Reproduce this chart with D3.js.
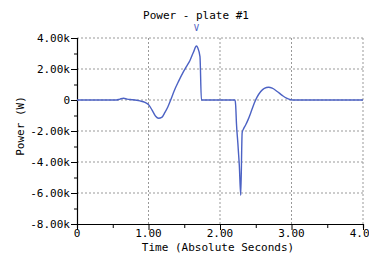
<!DOCTYPE html>
<html>
<head>
<meta charset="utf-8">
<script src="https://cdn.jsdelivr.net/npm/d3@7"></script>
<style>
  body { margin: 0; background: #fff; }
  text { font-family: "DejaVu Sans Mono", monospace; font-size: 11px; fill: #000; }
</style>
</head>
<body>
<svg></svg>
<script>
// tijd (s) en vermogen (W)
const tijd = [0, 0.55, 0.60, 0.65, 0.70, 0.78, 0.88, 0.95, 1.00, 1.05, 1.10, 1.14, 1.19, 1.23, 1.27, 1.31,
    1.36, 1.42, 1.48, 1.53, 1.58, 1.63, 1.67, 1.69, 1.72, 1.74, 1.80, 2.21, 2.22, 2.23, 2.25, 2.26, 2.27,
    2.29, 2.31, 2.33, 2.36, 2.39, 2.44, 2.48, 2.52, 2.57, 2.62, 2.68, 2.73, 2.80, 2.87, 2.93, 2.99, 3.05, 4.0]
const vermogen = [0, 0, 60, 110, 60, 20, -60, -150, -300, -650, -1050, -1180, -1100, -800, -450, 0,
    600, 1200, 1750, 2150, 2550, 3100, 3480, 3350, 2800, 0, 0, 0, -400, -1500, -2800, -3500, -4200,
    -6150, -2100, -1850, -1600, -1300, -700, -200, 200, 550, 750, 820, 760, 550, 300, 120, 20, 0, 0]

const xTicks = [0, 1, 2, 3, 4]
const xTickLabels = ["0", "1.00", "2.00", "3.00", "4.00"]
const yTicks = [4000, 2000, 0, -2000, -4000, -6000, -8000]
const yTickLabels = ["4.00k", "2.00k", "0", "-2.00k", "-4.00k", "-6.00k", "-8.00k"]
const piekTijd = 1.67

const width = 369
const height = 255
const svg = d3.select('svg')
    .attr("width", width)
    .attr("height", height)

const x = d3.scaleLinear().domain([0, 4]).range([77, 363])
const y = d3.scaleLinear().domain([-8000, 4000]).range([224, 38])

const data = tijd.map((t, i) => ({ t: t, v: vermogen[i] }))

// rasterlijnen
svg.append("g").selectAll("line")
    .data(xTicks.filter(d => d > 0))
    .enter().append("line")
    .attr("x1", d => x(d)).attr("x2", d => x(d))
    .attr("y1", y(4000)).attr("y2", y(-8000))
    .attr("stroke", "#999").attr("stroke-dasharray", "2,2")

svg.append("g").selectAll("line")
    .data(yTicks.filter(d => d > -8000))
    .enter().append("line")
    .attr("x1", x(0)).attr("x2", x(4))
    .attr("y1", d => y(d)).attr("y2", d => y(d))
    .attr("stroke", "#999").attr("stroke-dasharray", "2,2")

// assen
const xAs = svg.append("g")
    .attr("transform", `translate(0,${y(-8000)})`)
    .call(d3.axisBottom(x).tickValues(d3.range(0, 4.01, 0.5)).tickSize(4).tickFormat(""))
xAs.selectAll(".tick line").filter(d => d % 1 === 0).attr("y2", 6)

xAs.selectAll(".tick text").remove()
xAs.selectAll(".label")
    .data(xTicks)
    .enter().append("text")
    .attr("x", d => x(d))
    .attr("y", 13)
    .attr("text-anchor", "middle")
    .text((d, i) => xTickLabels[i])

const yAs = svg.append("g")
    .attr("transform", `translate(${x(0)},0)`)
    .call(d3.axisLeft(y).tickValues(d3.range(-8000, 4001, 1000)).tickSize(3).tickFormat(""))
yAs.selectAll(".tick line").filter(d => d % 2000 === 0).attr("x2", -6)

yAs.selectAll(".label")
    .data(yTicks)
    .enter().append("text")
    .attr("x", -7)
    .attr("y", d => y(d))
    .attr("dy", "0.35em")
    .attr("text-anchor", "end")
    .text((d, i) => yTickLabels[i])

svg.selectAll(".domain").attr("stroke", "#000").attr("stroke-width", 1.2)

// lijn
const lijn = d3.line()
    .x(d => x(d.t))
    .y(d => y(d.v))
    .curve(d3.curveMonotoneX)

svg.append("path")
    .datum(data)
    .attr("fill", "none")
    .attr("stroke", "#4c62c4")
    .attr("stroke-width", 1.4)
    .attr("d", lijn)

// titels
svg.append("text")
    .attr("x", 196).attr("y", 19)
    .attr("text-anchor", "middle")
    .text("Power - plate #1")

svg.append("text")
    .attr("x", x(piekTijd)).attr("y", 31)
    .attr("text-anchor", "middle")
    .style("fill", "#4c62c4")
    .style("font-size", "9px")
    .text("V")

svg.append("text")
    .attr("x", 218).attr("y", 251)
    .attr("text-anchor", "middle")
    .text("Time (Absolute Seconds)")

svg.append("text")
    .attr("transform", "translate(24,126) rotate(-90)")
    .attr("text-anchor", "middle")
    .text("Power (W)")
</script>
</body>
</html>
